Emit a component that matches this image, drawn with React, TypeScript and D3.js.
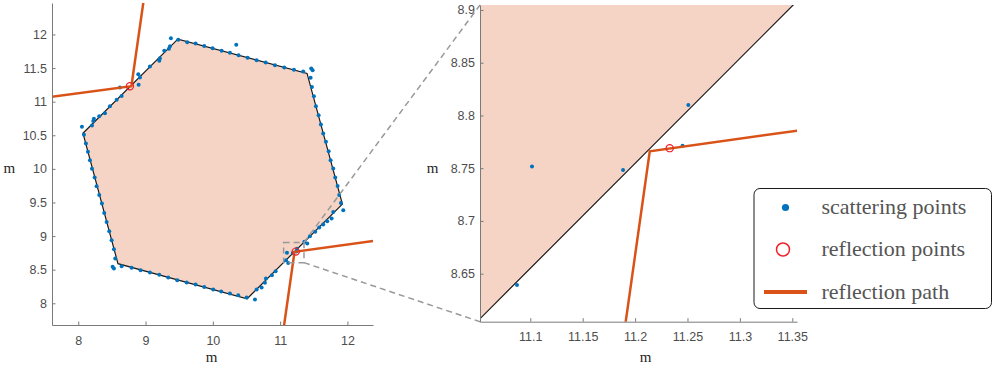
import React, { useRef, useEffect } from 'react';
import * as d3 from 'd3';

// hexagon outline (m)
const hexagon: [number, number][] = [
  [8.07, 10.53], [9.48, 11.93], [11.4, 11.42], [11.925, 9.476], [10.51, 8.068], [8.59, 8.59],
];

// measured scattering points (m)
const scatterPoints: [number, number][] = [
  [8.085, 10.506], [8.055, 10.625], [8.204, 10.646], [8.223, 10.714], [8.233, 10.744],
  [8.312, 10.784], [8.397, 10.829], [8.471, 10.933], [8.571, 11.027], [8.645, 11.086],
  [8.62, 11.21], [8.892, 11.409], [8.917, 11.36], [8.897, 11.25], [9.065, 11.524],
  [9.204, 11.607], [9.214, 11.647], [9.278, 11.756], [9.348, 11.786], [9.363, 11.826],
  [9.377, 11.945], [9.486, 11.92],
  [9.62, 11.885], [9.744, 11.866], [9.872, 11.83], [9.997, 11.796], [10.131, 11.756],
  [10.254, 11.726], [10.348, 11.845], [10.383, 11.692], [10.517, 11.652], [10.651, 11.618],
  [10.785, 11.583], [10.923, 11.543], [11.061, 11.509], [11.205, 11.473], [11.343, 11.449],
  [11.462, 11.494], [11.483, 11.469],
  [11.453, 11.354], [11.473, 11.22], [11.502, 11.082], [11.532, 10.933], [11.572, 10.799],
  [11.606, 10.661], [11.64, 10.527], [11.681, 10.402], [11.721, 10.263], [11.75, 10.129],
  [11.789, 10.006], [11.819, 9.872], [11.854, 9.747], [11.878, 9.613], [11.903, 9.494],
  [11.938, 9.385],
  [11.789, 9.36], [11.765, 9.262], [11.7, 9.222], [11.64, 9.173], [11.581, 9.128],
  [11.522, 9.063], [11.443, 8.999], [11.403, 8.89], [11.36, 8.915],
  [11.2508, 8.8098], [11.2453, 8.7712], [11.1885, 8.7484], [11.1016, 8.7515], [11.0873, 8.6393],
  [11.12, 8.598], [10.933, 8.478], [10.878, 8.418], [10.789, 8.369], [10.774, 8.304],
  [10.725, 8.235], [10.651, 8.205], [10.626, 8.057], [10.502, 8.086],
  [10.377, 8.121], [10.254, 8.146], [10.125, 8.176], [10.006, 8.205], [9.872, 8.244],
  [9.744, 8.28], [9.611, 8.31], [9.471, 8.344], [9.337, 8.384], [9.204, 8.423],
  [9.065, 8.458], [8.927, 8.493], [8.793, 8.527], [8.645, 8.552], [8.53, 8.518], [8.511, 8.542],
  [8.55, 8.667], [8.53, 8.805], [8.496, 8.939], [8.461, 9.073], [8.422, 9.211],
  [8.386, 9.345], [8.352, 9.485], [8.312, 9.613], [8.273, 9.743], [8.244, 9.872],
  [8.204, 10.0], [8.174, 10.129], [8.144, 10.253], [8.114, 10.378],
];

const reflectionPoints: [number, number][] = [[8.768, 11.23], [11.233, 8.769]];

const reflectionPaths: [number, number][][] = [
  [[7.5, 11.057], [8.79, 11.23], [8.985, 12.6]],
  [[11.027, 7.45], [11.214, 8.766], [12.5, 8.945]],
];

const mainXTicks = [8, 9, 10, 11, 12];
const mainYTicks = [8, 8.5, 9, 9.5, 10, 10.5, 11, 11.5, 12];
const zoomXTicks = [11.1, 11.15, 11.2, 11.25, 11.3, 11.35];
const zoomYTicks = [8.65, 8.7, 8.75, 8.8, 8.85, 8.9];
const zoomXDomain = [11.052, 11.3545];
const zoomYDomain = [8.6045, 8.9047];

const legendItems = ['scattering points', 'reflection points', 'reflection path'];

const App = () => {
  const ref = useRef<SVGSVGElement>(null);

  useEffect(() => {
    const svg = d3.select(ref.current);
    svg.selectAll('*').remove();

    const panels = [
      {
        id: 'main',
        x: d3.scaleLinear().domain([7.61, 12.38]).range([52, 373]),
        y: d3.scaleLinear().domain([7.677, 12.468]).range([325, 3]),
        xTicks: mainXTicks,
        yTicks: mainYTicks,
        xPad: 11,
        xLabel: [211.7, 362],
        yLabel: [9.3, 173],
      },
      {
        id: 'zoom',
        x: d3.scaleLinear().domain(zoomXDomain).range([480, 797]),
        y: d3.scaleLinear().domain(zoomYDomain).range([321.7, 5]),
        xTicks: zoomXTicks,
        yTicks: zoomYTicks,
        xPad: 10,
        xLabel: [645.7, 362],
        yLabel: [432.7, 173],
      },
    ];

    const line = (x, y) => d3.line<[number, number]>().x((d) => x(d[0])).y((d) => y(d[1]));

    panels.forEach((p) => {
      const [x0, x1] = p.x.range();
      const [y1, y0] = p.y.range();

      svg
        .append('clipPath')
        .attr('id', `clip-${p.id}`)
        .append('rect')
        .attr('x', x0)
        .attr('y', y0)
        .attr('width', x1 - x0)
        .attr('height', y1 - y0);

      const g = svg.append('g').attr('clip-path', `url(#clip-${p.id})`);

      // hexagon
      g.append('path')
        .datum(hexagon)
        .attr('d', line(p.x, p.y).curve(d3.curveLinearClosed))
        .attr('fill', '#F5D4C5')
        .attr('stroke', '#1a1a1a')
        .attr('stroke-width', 1.2);

      g.selectAll('.pt')
        .data(scatterPoints)
        .join('circle')
        .attr('cx', (d) => p.x(d[0]))
        .attr('cy', (d) => p.y(d[1]))
        .attr('r', 2)
        .attr('fill', '#0072BD');

      reflectionPaths.forEach((rp) => {
        g.append('path')
          .datum(rp)
          .attr('d', line(p.x, p.y))
          .attr('fill', 'none')
          .attr('stroke', '#D95319')
          .attr('stroke-width', 2.5);
      });

      g.selectAll('.rf')
        .data(reflectionPoints)
        .join('circle')
        .attr('cx', (d) => p.x(d[0]))
        .attr('cy', (d) => p.y(d[1]))
        .attr('r', 3.6)
        .attr('fill', 'none')
        .attr('stroke', '#F0202A')
        .attr('stroke-width', 1.2);

      // axes
      const xAxis = svg
        .append('g')
        .attr('transform', `translate(0, ${y1})`)
        .call(
          d3.axisBottom(p.x).tickValues(p.xTicks).tickFormat((d) => String(d)).tickSizeInner(-3.5).tickSizeOuter(0).tickPadding(p.xPad)
        );
      const yAxis = svg
        .append('g')
        .attr('transform', `translate(${x0}, 0)`)
        .call(
          d3.axisLeft(p.y).tickValues(p.yTicks).tickFormat((d) => String(d)).tickSizeInner(-3.5).tickSizeOuter(0).tickPadding(5)
        );
      [xAxis, yAxis].forEach((a) => {
        a.select('.domain').attr('stroke', '#7a7a7a');
        a.selectAll('.tick line').attr('stroke', '#7a7a7a');
        a.selectAll('text')
          .attr('fill', '#4d4d4d')
          .attr('font-family', 'Liberation Sans, Arial, sans-serif')
          .attr('font-size', 12.5);
      });

      [p.xLabel, p.yLabel].forEach((pos) => {
        svg
          .append('text')
          .attr('x', pos[0])
          .attr('y', pos[1])
          .attr('text-anchor', 'middle')
          .attr('font-family', 'Liberation Serif, Times New Roman, serif')
          .attr('font-size', 15)
          .attr('fill', '#262626')
          .text('m');
      });
    });

    // zoom box and connectors
    const main = panels[0];
    const zoom = panels[1];
    const bx0 = main.x(zoomXDomain[0]);
    const bx1 = main.x(zoomXDomain[1]);
    const by0 = main.y(zoomYDomain[1]);
    const by1 = main.y(zoomYDomain[0]);
    const dash = svg.append('g').attr('stroke', '#999').attr('stroke-width', 1.5).attr('stroke-dasharray', '6,4').attr('fill', 'none');
    dash.append('rect').attr('x', bx0).attr('y', by0).attr('width', bx1 - bx0).attr('height', by1 - by0);
    dash.append('line').attr('x1', bx1).attr('y1', by0).attr('x2', zoom.x.range()[0]).attr('y2', zoom.y.range()[1]);
    dash.append('line').attr('x1', bx1).attr('y1', by1).attr('x2', zoom.x.range()[0]).attr('y2', zoom.y.range()[0]);

    // legend
    const lg = svg.append('g');
    lg.append('rect')
      .attr('x', 754)
      .attr('y', 188.5)
      .attr('width', 237.5)
      .attr('height', 120)
      .attr('rx', 6)
      .attr('fill', '#fff')
      .attr('stroke', '#1a1a1a')
      .attr('stroke-width', 1);
    const rowY = [207.5, 249.5, 292];
    lg.append('circle').attr('cx', 785.5).attr('cy', rowY[0]).attr('r', 3.6).attr('fill', '#0072BD');
    lg.append('circle').attr('cx', 783).attr('cy', rowY[1]).attr('r', 6.5).attr('fill', 'none').attr('stroke', '#F0202A').attr('stroke-width', 1.5);
    lg.append('line').attr('x1', 764).attr('x2', 807).attr('y1', rowY[2]).attr('y2', rowY[2]).attr('stroke', '#D95319').attr('stroke-width', 4);
    lg.selectAll('.lt')
      .data(legendItems)
      .join('text')
      .attr('x', 821.5)
      .attr('y', (d, i) => rowY[i] + 6.5)
      .attr('font-family', 'Liberation Serif, Times New Roman, serif')
      .attr('font-size', 22)
      .attr('fill', '#555')
      .text((d) => d);
  }, []);

  return <svg ref={ref} width={996} height={366} style={{ position: 'absolute', left: 0, top: 0, background: '#fff' }} />;
};

export default App;
